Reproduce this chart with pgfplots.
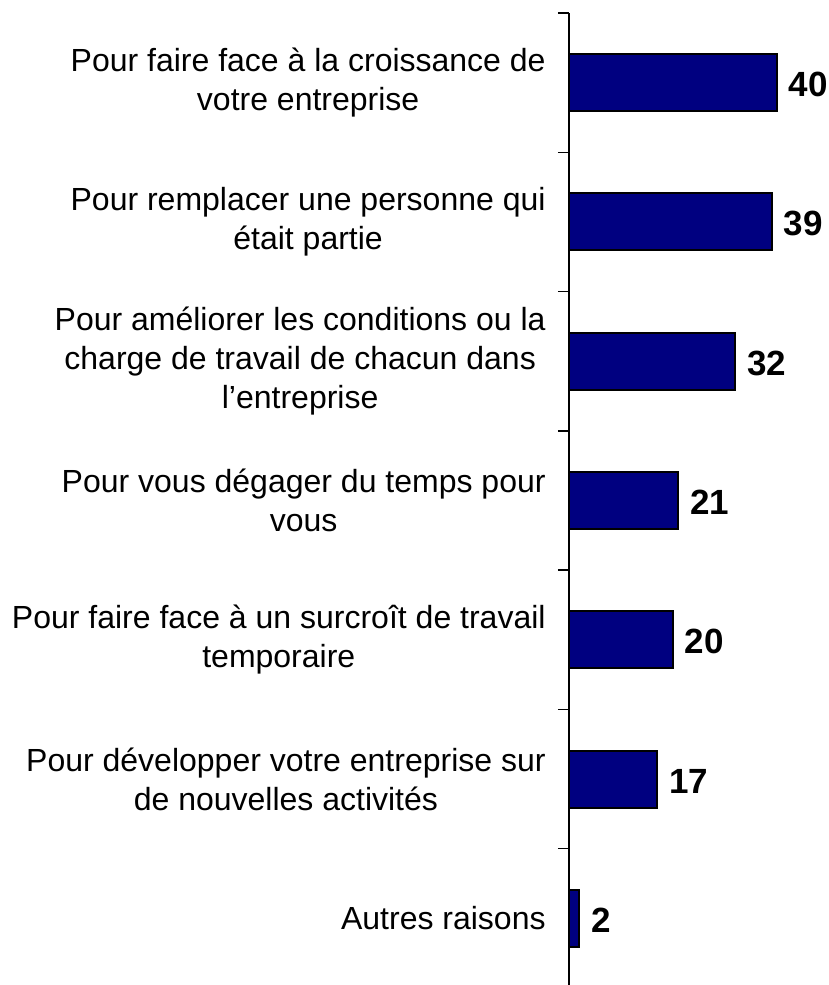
\documentclass[border=0pt]{standalone}
\usepackage{pgfplots}
\pgfplotsset{compat=1.18}
\usepackage{fontspec}
\setmainfont{Liberation Sans}
\definecolor{barnavy}{RGB}{0,0,128}
\begin{document}
\begin{tikzpicture}
\begin{axis}[
  at={(284.5pt,-6.5pt)}, anchor=north west,
  scale only axis,
  width=130pt, height=487.5pt,
  xbar, bar width=28.5pt,
  xmin=0, xmax=50,
  ymin=-0.5, ymax=6.5,
  y dir=reverse,
  axis x line=none,
  axis y line*=left,
  axis line style={black, line width=0.75pt},
  /pgf/number format/assume math mode=true,
  ytick={0,1,2,3,4,5,6},
  yticklabels={
    {Pour faire face à la croissance de\\votre entreprise},
    {Pour remplacer une personne qui\\était partie},
    {Pour améliorer les conditions ou la\\charge de travail de chacun dans\\l’entreprise},
    {Pour vous dégager du temps pour\\vous},
    {Pour faire face à un surcroît de travail\\temporaire},
    {Pour développer votre entreprise sur\\de nouvelles activités},
    {Autres raisons}},
  minor ytick={-0.5,0.5,1.5,2.5,3.5,4.5,5.5,6.5},
  major tick length=0pt,
  minor tick length=5.5pt,
  tick align=outside,
  tick style={black, line width=0.75pt},
  yticklabel style={align=center, font=\fontsize{16}{19.5}\selectfont, inner sep=0pt, xshift=-11.5pt},
  nodes near coords,
  every node near coord/.append style={font=\fontsize{17.5}{20}\selectfont\bfseries, inner sep=0pt, xshift=5.5pt, yshift=-1pt, black},
  clip=false,
]
\addplot[fill=barnavy, draw=black, line width=1pt] coordinates {
  (40,0) (39,1) (32,2) (21,3) (20,4) (17,5) (2,6)
};
\end{axis}
\pgfresetboundingbox
\path (0pt,0pt) rectangle (414.5pt,-492.5pt);
\end{tikzpicture}
\end{document}
